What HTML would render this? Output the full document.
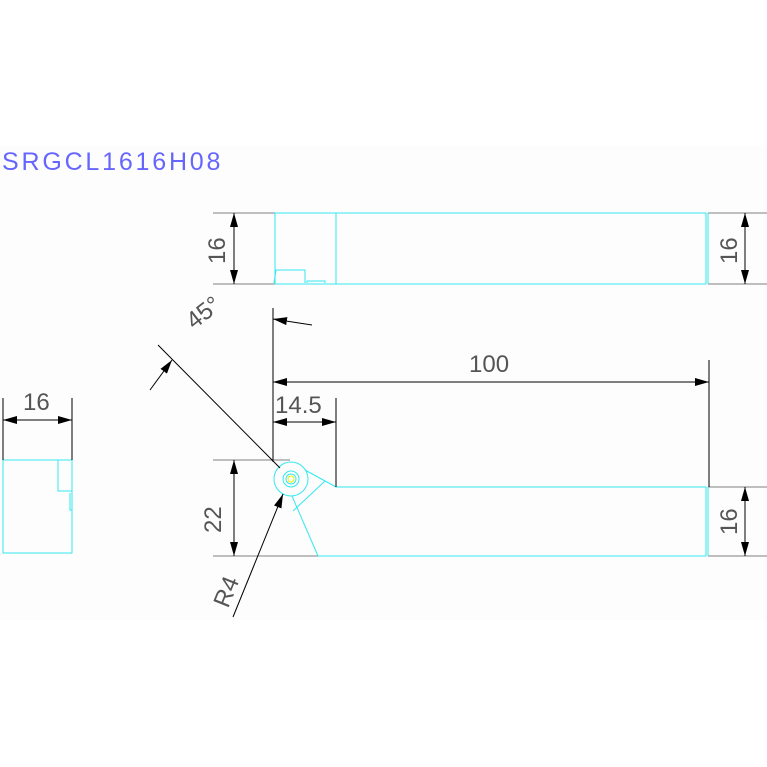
<!DOCTYPE html>
<html><head><style>html,body{margin:0;padding:0;background:#fff}svg{display:block}</style></head>
<body>
<svg width="767" height="767" viewBox="0 0 767 767" xmlns="http://www.w3.org/2000/svg" font-family="Liberation Sans, sans-serif">
<defs>
<marker id="a" viewBox="0 0 14 8" refX="14" refY="4" markerWidth="14" markerHeight="8" markerUnits="userSpaceOnUse" orient="auto-start-reverse">
<path d="M0,0 L14,4 L0,8 Z" fill="#000"/></marker>
</defs>
<rect x="0" y="145" width="767" height="475" fill="#fdfdfd"/>
<text x="2" y="170" font-size="25" fill="#6666ff" letter-spacing="2.8">SRGCL1616H08</text>

<g stroke="#999" stroke-width="1.2" fill="none">
<line x1="213" y1="213" x2="275" y2="213"/><line x1="213" y1="284" x2="275" y2="284"/>
<line x1="708" y1="213" x2="767" y2="213"/><line x1="708" y1="284" x2="767" y2="284"/>
<line x1="213" y1="460" x2="290" y2="460"/><line x1="213" y1="556" x2="318" y2="556"/>
<line x1="708" y1="487" x2="767" y2="487"/><line x1="708" y1="556" x2="767" y2="556"/>
</g>

<g stroke="#33e8f0" stroke-width="1" fill="none">
<rect x="275" y="213" width="431" height="71"/>
<line x1="336" y1="213" x2="336" y2="284"/>
<line x1="708" y1="213" x2="708" y2="284"/>
<path d="M274,283 L276,270 L305,270 L305,283"/>
<path d="M307,283 L307,281 L325,281 L325,283"/>
<path d="M336,487 L706,487 L706,556 L318,556"/>
<line x1="708" y1="487" x2="708" y2="556"/>
<path d="M305,470 L336,487"/>
<path d="M292,496 L318,556"/>
<path d="M293,511 L325,481"/>
<circle cx="291" cy="479" r="17"/>
<circle cx="291" cy="479" r="8"/>
<circle cx="291" cy="479" r="5"/>
<circle cx="291" cy="479" r="3" stroke="#ee0"/>
<rect x="3" y="460" width="69" height="93"/>
<path d="M58,460 L58,491 L72,491"/>
<path d="M70,493 L70,510 L72,510"/>
</g>

<g stroke="#000" stroke-width="1" fill="none">
<line x1="234" y1="213" x2="234" y2="284" marker-start="url(#a)" marker-end="url(#a)"/>
<line x1="745" y1="213" x2="745" y2="284" marker-start="url(#a)" marker-end="url(#a)"/>
<line x1="745" y1="487" x2="745" y2="556" marker-start="url(#a)" marker-end="url(#a)"/>
<line x1="234" y1="460" x2="234" y2="556" marker-start="url(#a)" marker-end="url(#a)"/>
<line x1="273" y1="308" x2="273" y2="462"/>
<line x1="709" y1="360" x2="709" y2="487"/>
<line x1="336" y1="398" x2="336" y2="487"/>
<line x1="273" y1="382" x2="709" y2="382" marker-start="url(#a)" marker-end="url(#a)"/>
<line x1="273" y1="422" x2="336" y2="422" marker-start="url(#a)" marker-end="url(#a)"/>
<line x1="233" y1="617" x2="283" y2="494" marker-end="url(#a)"/>
<line x1="158" y1="345" x2="280" y2="468"/>
<line x1="150" y1="390" x2="172" y2="360" marker-end="url(#a)"/>
<line x1="312" y1="325" x2="273" y2="319" marker-end="url(#a)"/>
<line x1="3" y1="398" x2="3" y2="460"/>
<line x1="72" y1="398" x2="72" y2="460"/>
<line x1="3" y1="420" x2="72" y2="420" marker-start="url(#a)" marker-end="url(#a)"/>
</g>

<g fill="#555" font-size="24">
<text x="0" y="0" transform="translate(225,264) rotate(-90)">16</text>
<text x="0" y="0" transform="translate(737,264) rotate(-90)">16</text>
<text x="0" y="0" transform="translate(737,535) rotate(-90)">16</text>
<text x="0" y="0" transform="translate(221,533) rotate(-90)">22</text>
<text x="469" y="372">100</text>
<text x="275" y="413">14.5</text>
<text x="23" y="410">16</text>
<text x="0" y="0" transform="translate(228,609) rotate(-68)">R4</text>
<text x="0" y="0" transform="translate(194,330) rotate(-38)">45°</text>
</g>
</svg>
</body></html>
